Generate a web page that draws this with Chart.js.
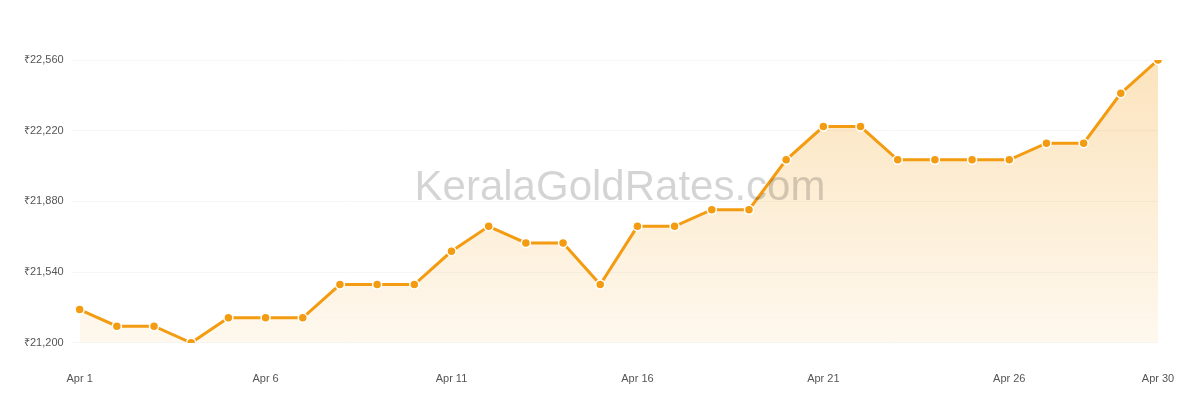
<!DOCTYPE html>
<html>
<head>
<meta charset="utf-8">
<script src="https://cdn.jsdelivr.net/npm/chart.js@4"></script>
<style>
  html, body { margin: 0; padding: 0; background: #fff; }
  #wrap { position: relative; width: 1200px; height: 400px; overflow: hidden; }
  #mark { position: absolute; left: 0; width: 1240px; top: 162px; text-align: center;
          font: 42px "Liberation Sans", Arial, sans-serif; color: rgba(0,0,0,0.17); pointer-events: none; }
</style>
</head>
<body>
<div id="wrap">
  <canvas id="chart" width="1200" height="408"></canvas>
  <div id="mark">KeralaGoldRates.com</div>
</div>
<script>
"use strict";

const LABELS = Array.from({ length: 30 }, (_, i) => `Apr ${i + 1}`);
const PRICES = [
  21360, 21280, 21280, 21200, 21320, 21320, 21320, 21480, 21480, 21480,
  21640, 21760, 21680, 21680, 21480, 21760, 21760, 21840, 21840, 22080,
  22240, 22240, 22080, 22080, 22080, 22080, 22160, 22160, 22400, 22560,
];
const Y_TICKS = [21200, 21540, 21880, 22220, 22560];

const ORANGE = "#f39c12";

const ctx = document.getElementById("chart");
new Chart(ctx, {
  type: "line",
  data: {
    labels: LABELS,
    datasets: [{
      data: PRICES,
      borderColor: ORANGE,
      borderWidth: 3,
      pointBackgroundColor: ORANGE,
      pointBorderColor: "#fff",
      pointBorderWidth: 1.5,
      pointRadius: 4.5,
      tension: 0,
      fill: "start",
      backgroundColor: c => {
        const area = c.chart.chartArea;
        if (!area) return "rgba(243,156,18,0.15)";
        const g = c.chart.ctx.createLinearGradient(0, area.top, 0, area.bottom);
        g.addColorStop(0, "rgba(243,156,18,0.28)");
        g.addColorStop(1, "rgba(243,156,18,0.07)");
        return g;
      },
    }],
  },
  options: {
    responsive: false,
    animation: false,
    layout: { padding: { top: 60, right: 42, left: 16, bottom: 0 } },
    plugins: { legend: { display: false }, tooltip: { enabled: false } },
    scales: {
      x: {
        grid: { display: false },
        border: { display: false },
        ticks: {
          color: "#555",
          font: { size: 11, family: "Liberation Sans" },
          maxRotation: 0,
          autoSkip: false,
          padding: 22,
          callback: (v, i) => (i % 5 === 0 || i === LABELS.length - 1) ? LABELS[i] : null,
        },
      },
      y: {
        min: Y_TICKS[0],
        max: Y_TICKS[Y_TICKS.length - 1],
        afterBuildTicks: axis => { axis.ticks = Y_TICKS.map(v => ({ value: v })); },
        grid: { color: "rgba(0,0,0,0.035)" },
        border: { display: false },
        ticks: {
          color: "#555",
          font: { size: 11, family: "Liberation Sans" },
          padding: 8,
          callback: v => "₹" + v.toLocaleString("en-US"),
        },
      },
    },
  },
});
</script>
</body>
</html>
